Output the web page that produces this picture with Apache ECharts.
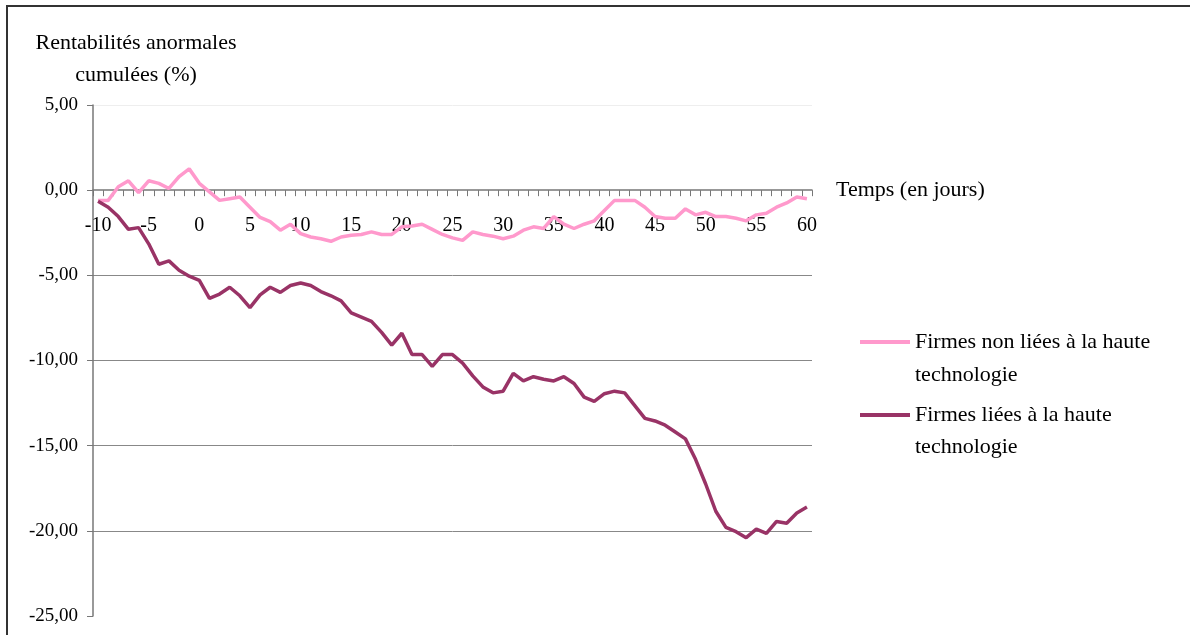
<!DOCTYPE html>
<html>
<head>
<meta charset="utf-8">
<script src="https://cdn.jsdelivr.net/npm/echarts@6/dist/echarts.min.js"></script>
<style>
html, body { margin: 0; padding: 0; background: #fff; }
#chart { width: 1190px; height: 635px; }
</style>
</head>
<body>
<div id="chart"></div>
<script>
// jours de l'événement
var jours = [];
for (var d = -10; d <= 60; d++) jours.push(String(d));

// rentabilités anormales cumulées (%)
var nonTech = [
	-0.6, -0.6, 0.2, 0.55, -0.15, 0.55, 0.4, 0.1, 0.8, 1.25,
	0.4, -0.1, -0.6, -0.5, -0.4, -1.0, -1.6, -1.85, -2.35, -2.0,
	-2.55, -2.75, -2.85, -3.0, -2.75, -2.65, -2.6, -2.45, -2.6, -2.6,
	-2.15, -2.1, -2.0, -2.3, -2.6, -2.8, -2.95, -2.45, -2.6, -2.7,
	-2.85, -2.7, -2.35, -2.15, -2.25, -1.55, -2.0, -2.25, -2.0, -1.8,
	-1.2, -0.6, -0.6, -0.6, -1.0, -1.55, -1.65, -1.65, -1.1, -1.45,
	-1.3, -1.55, -1.55, -1.65, -1.8, -1.45, -1.35, -1.0, -0.75, -0.4,
	-0.5
];
var tech = [
	-0.65, -1.0, -1.55, -2.3, -2.2, -3.15, -4.35, -4.15, -4.7, -5.05,
	-5.3, -6.35, -6.1, -5.7, -6.2, -6.9, -6.15, -5.7, -6.0, -5.6,
	-5.45, -5.6, -5.95, -6.2, -6.5, -7.2, -7.45, -7.7, -8.35, -9.1,
	-8.4, -9.65, -9.65, -10.35, -9.65, -9.65, -10.15, -10.9, -11.55, -11.9,
	-11.8, -10.75, -11.2, -10.95, -11.1, -11.2, -10.95, -11.35, -12.15, -12.4,
	-11.95, -11.8, -11.9, -12.65, -13.4, -13.55, -13.8, -14.2, -14.6, -15.8,
	-17.25, -18.85, -19.8, -20.05, -20.4, -19.9, -20.15, -19.45, -19.55, -18.95,
	-18.6
];

var nomNonTech = 'Firmes non liées à la haute technologie';
var nomTech = 'Firmes liées à la haute technologie';

var police = '"Liberation Serif", "DejaVu Serif", serif';

// hauteur de la grille : 635 - 105 - 19 = 511, le zéro est à 5/30 du haut
var decalageZero = -(511 - 511 * 5 / 30);

var myChart = echarts.init(document.getElementById('chart'));
var option = {
	animation: false,
	backgroundColor: '#fff',
	textStyle: { fontFamily: police, color: '#000' },
	grid: {
		left: 93,
		right: 378,
		top: 105,
		bottom: 19,
		containLabel: false,
		outerBoundsMode: 'none'
	},
	legend: {
		orient: 'vertical',
		left: 855,
		top: 326,
		itemWidth: 50,
		itemHeight: 4,
		itemGap: 51,
		icon: 'rect',
		data: [nomNonTech, nomTech],
		formatter: function (name) {
			return name.replace(' technologie', '');
		},
		textStyle: { fontFamily: police, fontSize: 22, color: '#000' }
	},
	graphic: [
		{
			type: 'rect',
			shape: { x: 7, y: 6, width: 1300, height: 800 },
			style: { fill: 'none', stroke: '#333', lineWidth: 2 }
		},
		{
			type: 'text', x: 136, y: 27,
			style: {
				text: 'Rentabilités anormales\ncumulées (%)',
				align: 'center',
				lineHeight: 32,
				font: '22px ' + police,
				fill: '#000'
			}
		},
		{
			type: 'text', x: 915, y: 364,
			style: { text: 'technologie', font: '22px ' + police, fill: '#000' }
		},
		{
			type: 'text', x: 915, y: 436,
			style: { text: 'technologie', font: '22px ' + police, fill: '#000' }
		}
	],
	xAxis: [
		{
			type: 'category',
			boundaryGap: true,
			data: jours,
			position: 'bottom',
			offset: decalageZero,
			name: 'Temps (en jours)',
			nameLocation: 'end',
			nameGap: 24,
			nameTextStyle: { fontFamily: police, fontSize: 22, color: '#000' },
			axisLine: { onZero: false, lineStyle: { color: '#777', width: 1.5 } },
			axisTick: { show: true, interval: 0, length: 6, lineStyle: { color: '#777' } },
			axisLabel: {
				interval: 4,
				margin: 26,
				fontSize: 20,
				color: '#000',
				fontFamily: police
			},
			splitLine: { show: false }
		}
	],
	yAxis: [
		{
			type: 'value',
			min: -25,
			max: 5,
			interval: 5,
			axisLine: { show: true, lineStyle: { color: '#777', width: 1.5 } },
			axisTick: { show: true, length: 6, lineStyle: { color: '#777' } },
			axisLabel: {
				margin: 15,
				fontSize: 19,
				color: '#000',
				fontFamily: police,
				formatter: function (v) {
					return v.toFixed(2).replace('.', ',');
				}
			},
			splitLine: {
				show: true,
				lineStyle: {
					color: ['rgba(0,0,0,0)', '#888', '#888', '#888', '#888', 'rgba(0,0,0,0)', '#eee'],
					width: 1
				}
			}
		}
	],
	series: [
		{
			name: nomNonTech,
			type: 'line',
			data: nonTech,
			symbol: 'none',
			itemStyle: { color: '#FF99CC' },
			lineStyle: { color: '#FF99CC', width: 3.5 }
		},
		{
			name: nomTech,
			type: 'line',
			data: tech,
			symbol: 'none',
			itemStyle: { color: '#993366' },
			lineStyle: { color: '#993366', width: 3.5 }
		}
	]
};

myChart.setOption(option);
window.onresize = myChart.resize;
</script>
</body>
</html>
